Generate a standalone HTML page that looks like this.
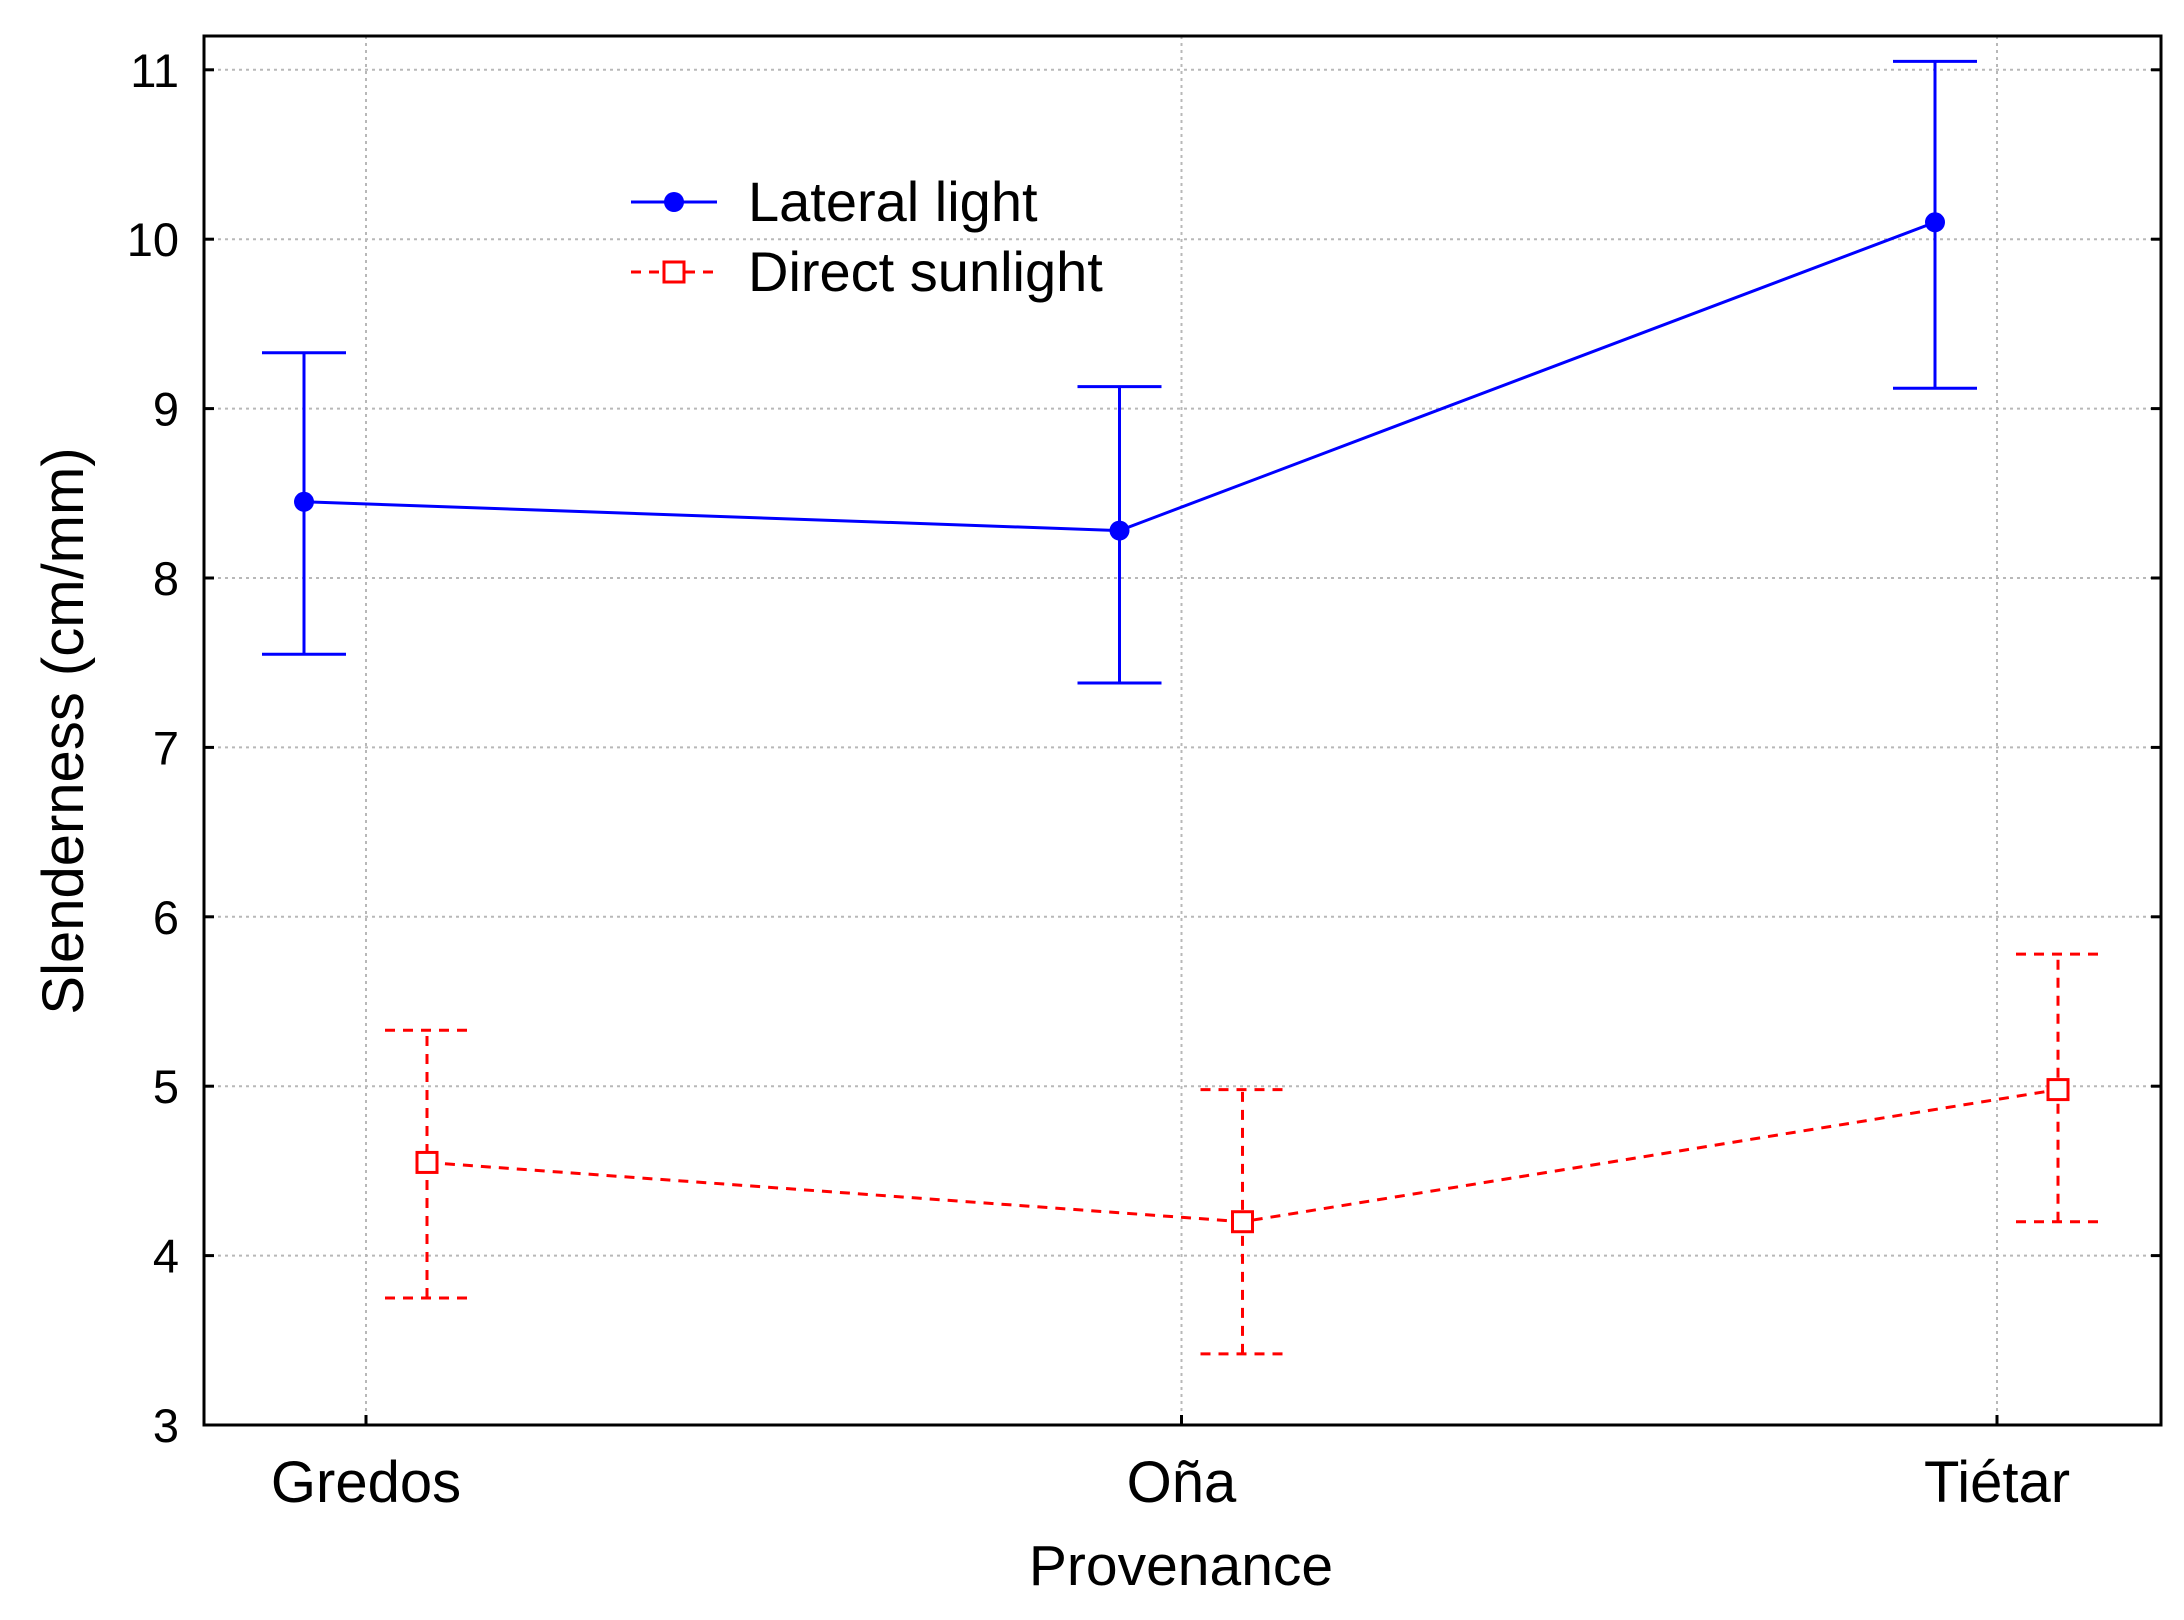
<!DOCTYPE html>
<html><head><meta charset="utf-8"><style>
html,body{margin:0;padding:0;background:#fff;}
svg{display:block;font-family:"Liberation Sans",Arial,sans-serif;}
</style></head><body>
<svg id="chart" width="2184" height="1620" viewBox="0 0 2184 1620">
<rect x="0" y="0" width="2184" height="1620" fill="#fff"/>
<g id="grid"></g>
<g id="axes"></g>
<g id="series"></g>
<rect x="204" y="36" width="1957" height="1389" fill="none" stroke="#000" stroke-width="3"/>
<text x="63" y="731" font-size="58" text-anchor="middle" transform="rotate(-90 63 731)" dy="20">Slenderness (cm/mm)</text>
<text x="1181" y="1585" font-size="57" text-anchor="middle">Provenance</text>
<g>
<g>
<line x1="631" y1="202" x2="717" y2="202" stroke="#0000ff" stroke-width="3"/>
<circle cx="674" cy="202" r="10" fill="#0000ff"/>
<text x="748" y="221" font-size="56">Lateral light</text>
</g>
<g>
<line x1="631" y1="272" x2="717" y2="272" stroke="#ff0000" stroke-width="3" stroke-dasharray="10,8"/>
<rect x="664" y="262" width="20" height="20" fill="#fff" stroke="#ff0000" stroke-width="3"/>
<text x="748" y="291" font-size="56">Direct sunlight</text>
</g>
</g>
</svg>
<script>
const categories = ["Gredos", "Oña", "Tiétar"];
const yTicks = [3, 4, 5, 6, 7, 8, 9, 10, 11];
const lateralMean = [8.45, 8.28, 10.1];
const lateralLow = [7.55, 7.38, 9.12];
const lateralHigh = [9.33, 9.13, 11.05];
const directMean = [4.55, 4.2, 4.98];
const directLow = [3.75, 3.42, 4.2];
const directHigh = [5.33, 4.98, 5.78];

const NS = "http://www.w3.org/2000/svg";
const L = 204, R = 2161, T = 36, B = 1425;
function yScale(v){ return 1425 - (v - 3) * 169.4; }
function xScale(i){ return 366 + i * 815.5; }
function mk(tag, attrs, parent){
  const e = document.createElementNS(NS, tag);
  for (const k in attrs) e.setAttribute(k, attrs[k]);
  parent.appendChild(e);
  return e;
}
const grid = document.getElementById('grid');
const axes = document.getElementById('axes');
const series = document.getElementById('series');

yTicks.forEach(v => {
  const y = yScale(v);
  if (v > 3) {
    const g = mk('line', {x1:L, x2:R, y1:y, y2:y, stroke:'#b8b8b8', 'stroke-width':2, 'stroke-dasharray':'3,4'}, grid);
    
    
    const t1 = mk('line', {x1:L, x2:L+10, y1:y, y2:y, stroke:'#000', 'stroke-width':3}, axes);
    
    
    const t2 = mk('line', {x1:R-10, x2:R, y1:y, y2:y, stroke:'#000', 'stroke-width':3}, axes);
    
    
  }
  const lab = mk('text', {x:179, y:y+17, 'font-size':47, 'text-anchor':'end'}, axes);
  lab.textContent = v;
  
  
});
categories.forEach((c, i) => {
  const x = xScale(i);
  const g = mk('line', {x1:x, x2:x, y1:T, y2:B, stroke:'#b8b8b8', 'stroke-width':2, 'stroke-dasharray':'3,4'}, grid);
  
  
  const t = mk('line', {x1:x, x2:x, y1:B-10, y2:B, stroke:'#000', 'stroke-width':3}, axes);
  
  
  const lab = mk('text', {x:x, y:1502, 'font-size':58, 'text-anchor':'middle'}, axes);
  lab.textContent = c;
  
  
});

function drawSeries(mean, low, high, off, color, dash, marker, name){
  const grp = mk('g', {}, series);
  
  
  const pts = mean.map((v, i) => (xScale(i) + off) + ',' + yScale(v)).join(' ');
  const pl = mk('polyline', {points:pts, fill:'none', stroke:color, 'stroke-width':3, 'stroke-dasharray':dash}, grp);
  
  
  mean.forEach((v, i) => {
    const x = xScale(i) + off;
    const eb = mk('path', {d:'M' + x + ' ' + yScale(low[i]) + 'V' + yScale(high[i]) +
      'M' + (x-42) + ' ' + yScale(high[i]) + 'H' + (x+42) +
      'M' + (x-42) + ' ' + yScale(low[i]) + 'H' + (x+42),
      fill:'none', stroke:color, 'stroke-width':3, 'stroke-dasharray':dash}, grp);
    
    
    let m;
    if (marker === 'circle') m = mk('circle', {cx:x, cy:yScale(v), r:10, fill:color}, grp);
    else m = mk('rect', {x:x-10, y:yScale(v)-10, width:20, height:20, fill:'#fff', stroke:color, 'stroke-width':3}, grp);
    
    
  });
}
drawSeries(lateralMean, lateralLow, lateralHigh, -62, '#0000ff', 'none', 'circle', 'lateral-light');
drawSeries(directMean, directLow, directHigh, 61, '#ff0000', '10,8', 'square', 'direct-sunlight');
</script>
</body></html>
